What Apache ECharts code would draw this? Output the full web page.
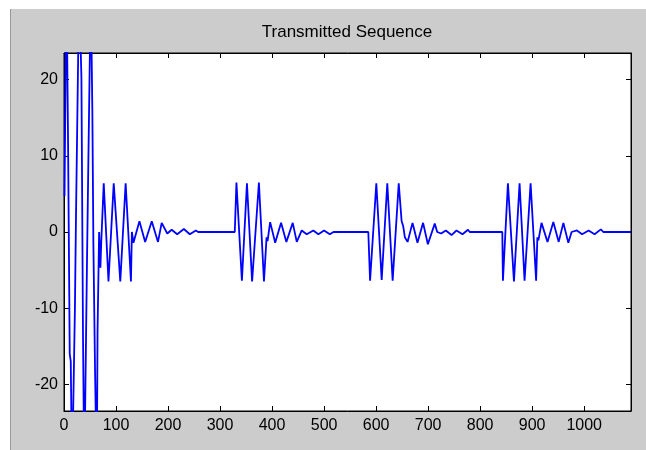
<!DOCTYPE html>
<html>
<head>
<meta charset="utf-8">
<script src="https://cdn.jsdelivr.net/npm/echarts@6/dist/echarts.min.js"></script>
<style>
  html, body { margin: 0; padding: 0; background: #ffffff; }
  #bg { position: absolute; left: 10px; top: 9px; width: 636px; height: 441px; background: #cccccc; border-left: 1px solid #9a9a9a; box-sizing: border-box; }
  #chart { position: absolute; left: 0; top: 0; width: 646px; height: 450px; }
</style>
</head>
<body>
<div id="bg"></div>
<div id="chart"></div>
<script>
// ---- data: [sample index, amplitude] vertices ----
const titleText = 'Transmitted Sequence';
const xTicks = [0, 100, 200, 300, 400, 500, 600, 700, 800, 900, 1000];
const yTicks = [-20, -10, 0, 10, 20];

// preamble: large swings (clipped by the axes) followed by burst 1 and its ringing
const segment1 = [
  [1, 4.7], [3, 20.1], [5, 32], [8, 10.3], [11, -16], [13, -17], [15.5, -32],
  [21, -10], [23, 1.7], [29, 32], [33.5, 20.3], [36.5, -13.3], [39, -32],
  [44, -5], [46.5, 7.6], [51.5, 32], [54.5, 16], [56.5, -1.6], [59.8, -18.7], [63, -32],
  [64.5, -13], [67.5, 0], [70, -4.7], [71.5, -1.5],
  [76.4, 6.4], [85.5, -6.5], [95.6, 6.4], [108.2, -6.5], [118.5, 6.4], [128.7, -6.5],
  [130.5, 0], [133.5, -1.4], [145, 1.4], [156, -1.3], [168.7, 1.4], [180.7, -1.3], [187.8, 1.2],
  [198.5, -0.2], [207, 0.3], [217.6, -0.3], [230.4, 0.4], [241.9, -0.3], [253.4, 0.2], [258, 0]
];

const segment2 = [
  [328.3, 0], [331.5, 6.5], [342, -6.4], [351.7, 6.4], [361.6, -6.5], [374.7, 6.5], [384.4, -6.5],
  [389.4, -0.7], [391.3, -1.2], [396.3, 1.3], [406, -1.4], [417.3, 1.2], [427.5, -1.3], [439.7, 1.2], [447.5, -1.3],
  [457, 0.2], [466.6, -0.3], [479.3, 0.2], [489, -0.3], [500, 0.2], [511, -0.3], [518, 0]
];

const segment3 = [
  [585, 0], [588.4, -6.4], [600.4, 6.4], [610.7, -6.3], [621.5, 6.4], [631.8, -6.4], [643.5, 6.4],
  [649, 1.45], [652, 0.8], [655.3, -0.7], [660.5, -1.3], [670, 1.2], [674.4, 0], [679.5, -1.4],
  [690.3, 1.2], [699.5, -1.6], [712.7, 1.1], [717.5, 0], [725, -0.2], [734, 0.2], [745, -0.4],
  [754.5, 0.2], [766, -0.3], [776.6, 0.3], [780, 0]
];

const segment4 = [
  [842.6, 0], [843.8, -6.4], [853.4, 6.4], [865, -6.5], [875.8, 6.4], [885.4, -6.4], [897, 6.4], [907.6, -6.4],
  [910, -0.7], [912, -1.1], [918, 1.2], [929.5, -1.3], [940.7, 1.3], [951, -1.3], [960, 1.2], [969.5, -1.4],
  [975.8, 0], [986, 0.2], [996, -0.3], [1008.5, 0.2], [1020, -0.3], [1032, 0.35], [1036.8, 0], [1090, 0]
];

const xRange = [0, 1090];
const yRange = [-23.5, 23.5];

const signal = [].concat(segment1, segment2, segment3, segment4);

const font = "'Liberation Sans', Arial, sans-serif";
const chart = echarts.init(document.getElementById('chart'), null, { renderer: 'canvas' });

const tickStyle = { show: true, inside: true, length: 5, lineStyle: { color: '#000', width: 1 } };
const lineStyle = { show: true, onZero: false, lineStyle: { color: '#000', width: 1 } };
const plain = v => String(v);

chart.setOption({
  backgroundColor: 'transparent',
  animation: false,
  title: {
    text: titleText,
    left: 347, top: 24, padding: 0, textAlign: 'center',
    textStyle: { fontFamily: font, fontSize: 17, fontWeight: 'normal', color: '#000' }
  },
  grid: {
    left: 64, right: 15, top: 53, bottom: 39,
    show: true, backgroundColor: '#ffffff', borderColor: '#000', borderWidth: 1
  },
  xAxis: [
    {
      type: 'value', position: 'bottom', min: xRange[0], max: xRange[1],
      axisLine: lineStyle,
      axisTick: Object.assign({}, tickStyle, { customValues: xTicks }),
      axisLabel: { customValues: xTicks, formatter: plain, color: '#000', fontFamily: font, fontSize: 16, margin: 7 },
      splitLine: { show: false }
    },
    {
      type: 'value', position: 'top', min: xRange[0], max: xRange[1],
      axisLine: lineStyle,
      axisTick: Object.assign({}, tickStyle, { customValues: xTicks }),
      axisLabel: { show: false },
      splitLine: { show: false }
    }
  ],
  yAxis: [
    {
      type: 'value', position: 'left', min: yRange[0], max: yRange[1],
      axisLine: lineStyle,
      axisTick: Object.assign({}, tickStyle, { customValues: yTicks }),
      axisLabel: { customValues: yTicks, formatter: plain, color: '#000', fontFamily: font, fontSize: 16, margin: 6 },
      splitLine: { show: false }
    },
    {
      type: 'value', position: 'right', min: yRange[0], max: yRange[1],
      axisLine: lineStyle,
      axisTick: Object.assign({}, tickStyle, { customValues: yTicks }),
      axisLabel: { show: false },
      splitLine: { show: false }
    }
  ],
  series: [{
    type: 'line',
    xAxisIndex: 0, yAxisIndex: 0,
    data: signal,
    showSymbol: false,
    clip: true,
    lineStyle: { color: '#0000ff', width: 1.8 },
    silent: true
  }]
});
</script>
</body>
</html>
